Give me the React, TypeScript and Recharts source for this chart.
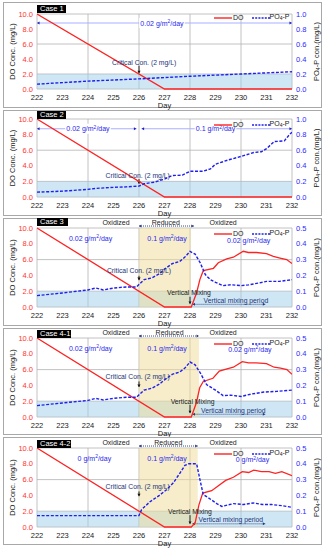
import React from "react";
import {
  ComposedChart,
  Line,
  XAxis,
  YAxis,
  CartesianGrid,
  ReferenceArea,
  ReferenceLine,
  ReferenceDot,
  Legend,
} from "recharts";

const FONT = '"Liberation Sans", Arial, sans-serif';

// ticks
const DAYS = [222, 223, 224, 225, 226, 227, 228, 229, 230, 231, 232];
const DO_TICKS = [0, 2, 4, 6, 8, 10];
const PO4_TICKS_1 = [0, 0.2, 0.4, 0.6, 0.8, 1.0];
const PO4_TICKS_05 = [0, 0.1, 0.2, 0.3, 0.4, 0.5];

// DO (mg/L)
const doDaysLinear = [222, 227, 232];
const doValsLinear = [10, 0, 0];

const doDays3 = [222, 227, 228.05, 228.26, 228.39, 228.52, 228.92, 229.11, 229.44, 229.7, 230.09, 230.29, 230.61, 231.0, 231.27, 231.53, 231.79, 232];
const doVals3 = [10, 0, 0, 1.8, 3.5, 4.6, 4.9, 5.6, 6.1, 6.3, 7.05, 6.9, 6.9, 6.75, 6.4, 6.2, 6.0, 5.5];

const doDays41 = [222, 227, 228.05, 228.25, 228.38, 228.52, 228.9, 229.15, 229.45, 229.7, 230.05, 230.3, 230.6, 231.0, 231.3, 231.55, 231.8, 232];
const doVals41 = [10, 0, 0, 1.8, 3.7, 4.5, 4.9, 5.8, 6.1, 6.3, 7.0, 6.85, 6.85, 6.75, 6.3, 6.2, 6.0, 5.4];

const doDays42 = [222, 227, 228.05, 228.2, 228.35, 228.5, 228.85, 229.1, 229.4, 229.7, 230.05, 230.3, 230.5, 230.8, 231.1, 231.35, 231.6, 232];
const doVals42 = [10, 0, 0, 0.5, 2.8, 4.3, 4.6, 5.2, 5.9, 6.3, 7.0, 6.9, 7.2, 7.0, 7.0, 6.8, 7.0, 6.5];

// PO4-P (mg/L)
const poDays1 = [222, 224, 226, 228, 230, 232];
const poVals1 = [0.065, 0.105, 0.135, 0.17, 0.2, 0.23];

const poDays2 = [222, 223, 224, 224.3, 225, 225.5, 226, 226.2, 226.6, 227, 227.3, 227.7, 228, 228.5, 228.8, 229, 229.5, 230, 230.5, 230.8, 231, 231.3, 231.7, 231.9, 232];
const poVals2 = [0.062, 0.075, 0.098, 0.11, 0.124, 0.13, 0.14, 0.17, 0.19, 0.23, 0.275, 0.28, 0.33, 0.33, 0.36, 0.42, 0.475, 0.52, 0.57, 0.58, 0.62, 0.71, 0.72, 0.8, 0.83];

const poDays3 = [222, 223, 224, 224.3, 224.6, 225, 225.5, 225.9, 226.2, 226.5, 226.8, 227, 227.3, 227.6, 227.8, 228, 228.2, 228.4, 228.6, 228.8, 229, 229.3, 229.6, 230, 230.3, 230.7, 231, 231.5, 232];
const poVals3 = [0.072, 0.089, 0.108, 0.12, 0.108, 0.12, 0.127, 0.127, 0.173, 0.184, 0.21, 0.24, 0.274, 0.289, 0.316, 0.352, 0.335, 0.28, 0.205, 0.173, 0.156, 0.135, 0.141, 0.135, 0.14, 0.152, 0.162, 0.162, 0.173];

const poDays41 = [222, 223, 224, 224.3, 224.6, 225, 225.5, 225.9, 226.2, 226.5, 226.8, 227, 227.3, 227.6, 227.8, 228, 228.2, 228.4, 228.65, 229, 229.3, 229.6, 230, 230.4, 230.9, 231.4, 232];
const poVals41 = [0.072, 0.089, 0.105, 0.118, 0.108, 0.118, 0.125, 0.125, 0.17, 0.182, 0.208, 0.235, 0.27, 0.285, 0.31, 0.348, 0.33, 0.28, 0.205, 0.17, 0.135, 0.138, 0.13, 0.145, 0.158, 0.162, 0.17];

const poDays42 = [222, 226, 226.1, 226.43, 226.8, 227.08, 227.35, 227.6, 227.8, 227.95, 228.26, 228.39, 228.52, 228.72, 229.05, 229.25, 229.7, 230.1, 230.48, 230.85, 231.2, 231.6, 232];
const poVals42 = [0.072, 0.072, 0.11, 0.16, 0.2, 0.236, 0.28, 0.34, 0.39, 0.4, 0.4, 0.3, 0.205, 0.185, 0.148, 0.13, 0.148, 0.142, 0.152, 0.142, 0.142, 0.135, 0.125];

type Pt = { x: number; y: number };
const zip = (xs: number[], ys: number[]): Pt[] => xs.map((x, i) => ({ x, y: ys[i] }));

const RED = "#ff2222";
const BLUE = "#1f1fee";
const NAVY = "#24357a";

function head(px: number, py: number, dx: number, dy: number, s: number, color: string, key: string) {
  const len = Math.hypot(dx, dy) || 1;
  const ux = dx / len;
  const uy = dy / len;
  const bx = px - ux * s * 1.6;
  const by = py - uy * s * 1.6;
  const pts = `${px},${py} ${bx - uy * s},${by + ux * s} ${bx + uy * s},${by - ux * s}`;
  return <polygon key={key} points={pts} fill={color} />;
}

function ArrowLine(props: any) {
  const { x1, y1, x2, y2, lineColor, headColor, dash, start, end, sw = 1, hs = 1.8 } = props;
  return (
    <g>
      <line x1={x1} y1={y1} x2={x2} y2={y2} stroke={lineColor} strokeWidth={sw} strokeDasharray={dash} />
      {start && head(x1, y1, x1 - x2, y1 - y2, hs, headColor, "s")}
      {end && head(x2, y2, x2 - x1, y2 - y1, hs, headColor, "e")}
    </g>
  );
}

const arrow = (key: string, a: Pt, b: Pt, style: any) => (
  <ReferenceLine
    key={key}
    segment={[a, b]}
    ifOverflow="visible"
    shape={(p: any) => <ArrowLine x1={p.x1} y1={p.y1} x2={p.x2} y2={p.y2} {...style} />}
  />
);

const mark = (key: string, x: number, y: number, render: (cx: number, cy: number) => React.ReactElement) => (
  <ReferenceDot key={key} x={x} y={y} r={0} ifOverflow="visible" shape={(p: any) => render(p.cx, p.cy)} />
);

const plainText = (key: string, x: number, y: number, text: string, color: string, size = 7) =>
  mark(key, x, y, (cx, cy) => (
    <text x={cx} y={cy + size * 0.36} textAnchor="middle" fontSize={size} fill={color} fontFamily={FONT}>
      {text}
    </text>
  ));

const rateText = (key: string, x: number, y: number, rate: string, bg: boolean) =>
  mark(key, x, y, (cx, cy) => {
    const w = rate.length * 3.9 + 30;
    return (
      <g>
        {bg && <rect x={cx - w / 2} y={cy - 5} width={w} height={10} fill="#fff" />}
        <text x={cx} y={cy + 2.5} textAnchor="middle" fontSize={7} fill={BLUE} fontFamily={FONT}>
          {rate} g/m
          <tspan dy={-2.6} fontSize={5}>2</tspan>
          <tspan dy={2.6}>/day</tspan>
        </text>
      </g>
    );
  });

const rateLine = (key: string, a: number, b: number, y: number) =>
  arrow(key, { x: a, y }, { x: b, y }, { lineColor: "#aab0ff", headColor: "#2020c0", start: true, end: true, sw: 1.2, hs: 1.6 });

function LeftTitle(props: any) {
  const vb = props.viewBox || { x: 0, y: 0, width: 0, height: 0 };
  const x = vb.x + 5;
  const y = vb.y + vb.height / 2;
  return (
    <text x={x} y={y} transform={`rotate(-90 ${x} ${y})`} textAnchor="middle" dominantBaseline="central" fontSize={7.5} fill="#222" fontFamily={FONT}>
      DO Conc. (mg/L)
    </text>
  );
}

function RightTitle(props: any) {
  const vb = props.viewBox || { x: 0, y: 0, width: 0, height: 0 };
  const x = vb.x + vb.width - 4;
  const y = vb.y + vb.height / 2;
  return (
    <text x={x} y={y} transform={`rotate(-90 ${x} ${y})`} textAnchor="middle" dominantBaseline="central" fontSize={7.5} fill="#222" fontFamily={FONT}>
      PO
      <tspan dy={2} fontSize={5}>4</tspan>
      <tspan dy={-2}>-P con.(mg/L)</tspan>
    </text>
  );
}

function DayTitle(props: any) {
  const vb = props.viewBox || { x: 0, y: 0, width: 0, height: 0 };
  return (
    <text x={vb.x + vb.width / 2} y={vb.y + 19} textAnchor="middle" fontSize={7.5} fill="#222" fontFamily={FONT}>
      Day
    </text>
  );
}

const LegendBox = () => (
  <div style={{ display: "flex", alignItems: "center", fontSize: 7, fontFamily: FONT, color: "#222", lineHeight: "8px", whiteSpace: "nowrap" }}>
    <svg width={18} height={4}>
      <line x1={0} y1={2} x2={18} y2={2} stroke={RED} strokeWidth={1.4} />
    </svg>
    <span style={{ marginLeft: 1 }}>DO</span>
    <svg width={18} height={4} style={{ marginLeft: 8 }}>
      <line x1={0} y1={2} x2={18} y2={2} stroke={BLUE} strokeWidth={1.3} strokeDasharray="2 1.2" />
    </svg>
    <span>
      PO<span style={{ fontSize: 5, verticalAlign: -1 }}>4</span>-P
    </span>
  </div>
);

interface PanelProps {
  name: string;
  top: number;
  boxH: number;
  plotTop: number;
  plotH: number;
  caseTop: number;
  caseW: number;
  legendOff: number;
  doPts: Pt[];
  poPts: Pt[];
  poMax: number;
  poTicks: number[];
  reducedEnd?: number;
  children?: React.ReactNode;
}

const AXIS_H = 22;

function Panel(p: PanelProps) {
  const chartH = p.plotTop + p.plotH + AXIS_H;
  return (
    <>
      <div style={{ position: "absolute", left: 3, top: p.top, width: 319, height: p.boxH, border: "1px solid #a8a8a8", boxSizing: "border-box" }} />
      <div style={{ position: "absolute", left: 0, top: p.top }}>
        <ComposedChart width={325} height={chartH} margin={{ top: p.plotTop, right: 5, bottom: 0, left: 7 }}>
          <CartesianGrid stroke="#b2b2b2" strokeWidth={0.8} />
          <XAxis
            dataKey="x"
            type="number"
            domain={[222, 232]}
            ticks={DAYS}
            allowDataOverflow
            height={AXIS_H}
            axisLine={false}
            tickLine={false}
            tickSize={3}
            tickMargin={3}
            tick={{ fontSize: 7.5, fill: "#222", fontFamily: FONT }}
            label={<DayTitle />}
          />
          <YAxis
            yAxisId={0}
            domain={[0, 10]}
            ticks={DO_TICKS}
            width={30}
            axisLine={false}
            tickLine={false}
            tickSize={3}
            tickMargin={1}
            tickFormatter={(v: number) => v.toFixed(1)}
            tick={{ fontSize: 7.5, fill: "#ff3333", fontFamily: FONT }}
            label={<LeftTitle />}
          />
          <YAxis
            yAxisId="r"
            orientation="right"
            domain={[0, p.poMax]}
            ticks={p.poTicks}
            width={28}
            axisLine={false}
            tickLine={false}
            tickSize={3}
            tickMargin={1}
            tickFormatter={(v: number) => v.toFixed(1)}
            tick={{ fontSize: 7.5, fill: "#2a2aff", fontFamily: FONT }}
            label={<RightTitle />}
          />
          <ReferenceArea x1={222} x2={232} y1={0} y2={2} fill="#9fd0ec" fillOpacity={0.5} stroke="none" ifOverflow="hidden" />
          {p.reducedEnd !== undefined && (
            <ReferenceArea x1={226} x2={p.reducedEnd} y1={0} y2={10} fill="#efdc96" fillOpacity={0.5} stroke="none" ifOverflow="hidden" />
          )}
          {p.children}
          <Line data={p.doPts} dataKey="y" yAxisId={0} stroke={RED} strokeWidth={1.3} dot={false} isAnimationActive={false} name="DO" />
          <Line data={p.poPts} dataKey="y" yAxisId="r" stroke={BLUE} strokeWidth={1.4} strokeDasharray="3 1.6" dot={false} isAnimationActive={false} name="PO4-P" />
          <Legend
            align="center"
            verticalAlign="middle"
            content={() => <LegendBox />}
            wrapperStyle={{ left: 214, top: p.plotTop + p.legendOff - 4, width: 90, height: 8 }}
          />
        </ComposedChart>
      </div>
      <div
        style={{
          position: "absolute",
          left: 37,
          top: p.caseTop,
          width: p.caseW,
          height: 8,
          background: "#000",
          color: "#fff",
          fontSize: 7.5,
          lineHeight: "8px",
          paddingLeft: 3,
          boxSizing: "border-box",
          fontFamily: FONT,
        }}
      >
        {p.name}
      </div>
    </>
  );
}

const criticalLabel = (k: string, tx: number, ty: number, a1: number, a2: number) => [
  plainText(k + "t", tx, ty, "Critical Con. (2 mg/L)", NAVY, 6.8),
  arrow(k + "a", { x: 226, y: a1 }, { x: 226, y: a2 }, { lineColor: "#111", headColor: "#111", end: true, sw: 0.9, hs: 1.6 }),
];

const phaseLabels = (k: string, redEnd: number, redX: number) => [
  plainText(k + "o1", 225.1, 10.67, "Oxidized", "#222", 7),
  plainText(k + "r", redX, 10.67, "Reduced", "#222", 7),
  plainText(k + "o2", 229.3, 10.67, "Oxidized", "#222", 7),
  arrow(k + "ra", { x: 226, y: 10.25 }, { x: redEnd, y: 10.25 }, { lineColor: NAVY, headColor: NAVY, dash: "1 1", start: true, end: true, sw: 0.9, hs: 1.5 }),
];

const mixingLabels = (k: string, tx: number, ty: number, a1: number, a2: number, px: number, py: number, ly: number) => [
  plainText(k + "vm", tx, ty, "Vertical Mixing", "#222", 6.8),
  arrow(k + "va", { x: 228, y: a1 }, { x: 228, y: a2 }, { lineColor: "#111", headColor: "#111", end: true, sw: 0.9, hs: 1.5 }),
  plainText(k + "pt", px, py, "Vertical mixing period", NAVY, 6.8),
  arrow(k + "pa", { x: 228.1, y: ly }, { x: 230.95, y: ly }, { lineColor: NAVY, headColor: NAVY, dash: "1 1", start: true, end: true, sw: 0.9, hs: 1.5 }),
];

export default function App() {
  return (
    <div style={{ position: "absolute", left: 0, top: 0, width: 325, height: 550, background: "#fff", fontFamily: FONT }}>
      <Panel
        name="Case 1"
        top={2}
        boxH={106}
        plotTop={12}
        plotH={75}
        caseTop={5}
        caseW={29}
        legendOff={3}
        doPts={zip(doDaysLinear, doValsLinear)}
        poPts={zip(poDays1, poVals1)}
        poMax={1}
        poTicks={PO4_TICKS_1}
      >
        {rateLine("r1", 222, 232, 8.8)}
        {rateText("t1", 226.9, 8.8, "0.02", true)}
        {criticalLabel("c1", 226.2, 3.5, 3.1, 2.1)}
      </Panel>
      <Panel
        name="Case 2"
        top={110}
        boxH={106}
        plotTop={9}
        plotH={78}
        caseTop={111}
        caseW={29}
        legendOff={5}
        doPts={zip(doDaysLinear, doValsLinear)}
        poPts={zip(poDays2, poVals2)}
        poMax={1}
        poTicks={PO4_TICKS_1}
      >
        {rateLine("r2a", 222, 225.9, 8.75)}
        {rateLine("r2b", 226.1, 232, 8.75)}
        {rateText("t2a", 224.0, 8.75, "0.02", true)}
        {rateText("t2b", 229.0, 8.75, "0.1", true)}
        {criticalLabel("c2", 225.95, 2.75, 2.3, 1.7)}
      </Panel>
      <Panel
        name="Case 3"
        top={218}
        boxH={108}
        plotTop={10}
        plotH={79}
        caseTop={218}
        caseW={31}
        legendOff={5}
        doPts={zip(doDays3, doVals3)}
        poPts={zip(poDays3, poVals3)}
        poMax={0.5}
        poTicks={PO4_TICKS_05}
        reducedEnd={228.03}
      >
        {phaseLabels("p3", 228.15, 227.05)}
        {rateText("t3a", 224.1, 8.7, "0.02", false)}
        {rateText("t3b", 227.1, 8.7, "0.1", false)}
        {rateText("t3c", 230.3, 8.4, "0.02", false)}
        {criticalLabel("c3", 226.0, 4.6, 3.95, 3.4)}
        {mixingLabels("m3", 227.96, 1.77, 1.3, 0.4, 229.8, 0.8, 0.34)}
      </Panel>
      <Panel
        name="Case 4-1"
        top={328}
        boxH={107}
        plotTop={10}
        plotH={79}
        caseTop={330}
        caseW={34}
        legendOff={5}
        doPts={zip(doDays41, doVals41)}
        poPts={zip(poDays41, poVals41)}
        poMax={0.5}
        poTicks={PO4_TICKS_05}
        reducedEnd={228.35}
      >
        {phaseLabels("p4", 228.35, 227.2)}
        {rateText("t4a", 224.1, 8.7, "0.02", false)}
        {rateText("t4b", 227.1, 8.7, "0.1", false)}
        {rateText("t4c", 230.35, 8.6, "0.02", false)}
        {criticalLabel("c4", 225.95, 5.15, 4.5, 3.8)}
        {mixingLabels("m4", 228.1, 2.0, 1.55, 0.5, 229.7, 0.8, 0.35)}
      </Panel>
      <Panel
        name="Case 4-2"
        top={437}
        boxH={108}
        plotTop={11}
        plotH={79}
        caseTop={440}
        caseW={34}
        legendOff={5}
        doPts={zip(doDays42, doVals42)}
        poPts={zip(poDays42, poVals42)}
        poMax={0.5}
        poTicks={PO4_TICKS_05}
        reducedEnd={228.3}
      >
        {phaseLabels("p5", 228.3, 227.15)}
        {rateText("t5a", 224.25, 8.7, "0", false)}
        {rateText("t5b", 227.1, 8.7, "0.1", false)}
        {rateText("t5c", 230.45, 8.5, "0", false)}
        {criticalLabel("c5", 225.95, 5.15, 4.5, 3.9)}
        {mixingLabels("m5", 228.0, 1.94, 1.5, 0.4, 229.6, 0.9, 0.4)}
      </Panel>
    </div>
  );
}
